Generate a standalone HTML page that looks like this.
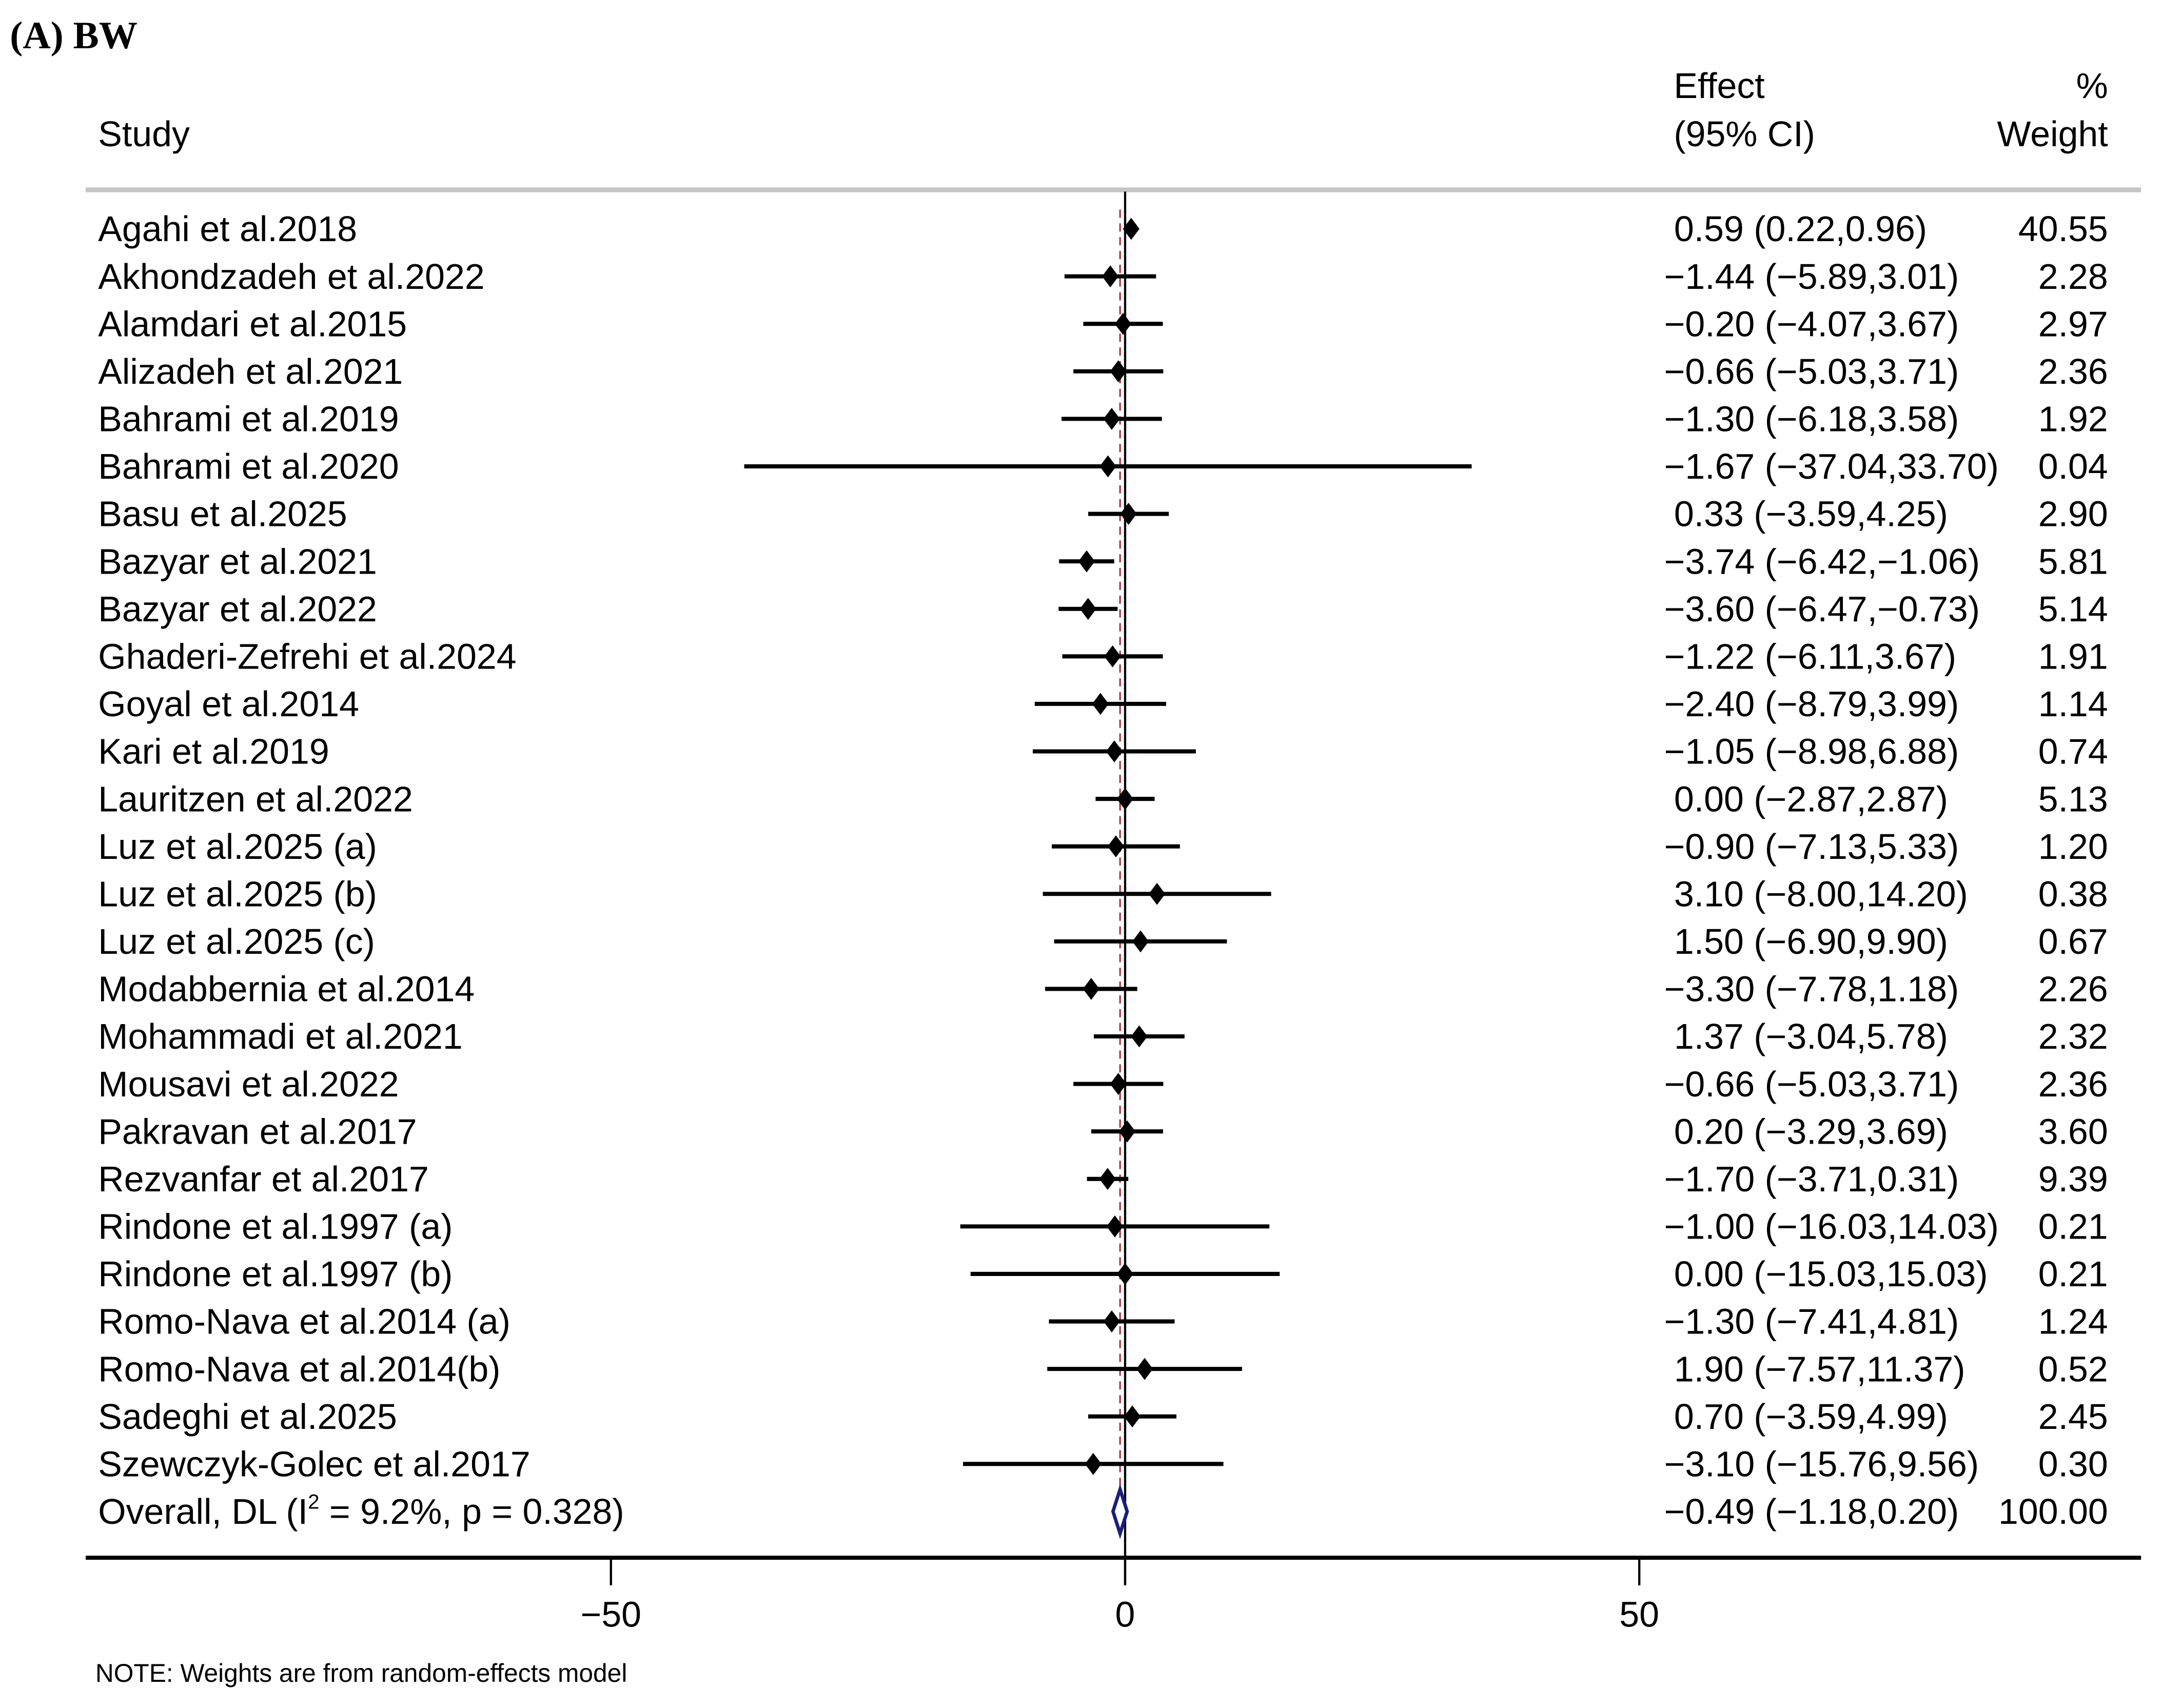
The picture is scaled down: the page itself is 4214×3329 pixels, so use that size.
<!DOCTYPE html>
<html><head><meta charset="utf-8"><style>
html,body{margin:0;padding:0;background:#fff}
svg{display:block}
text{font-family:"Liberation Sans",Arial,sans-serif;fill:#000}
</style></head><body>
<svg id="chart" width="4214" height="3329" viewBox="0 0 1568 1239" xmlns="http://www.w3.org/2000/svg">
<rect width="1568" height="1239" fill="#fff"/>
<text x="7" y="35" style="font-family:'Liberation Serif',serif;font-weight:bold;font-size:28px">(A) BW</text>
<text x="71" y="106" font-size="26">Study</text>
<text x="1214" y="71" font-size="26">Effect</text>
<text x="1214" y="106" font-size="26">(95% CI)</text>
<text x="1529" y="71" font-size="26" text-anchor="end">%</text>
<text x="1529" y="106" font-size="26" text-anchor="end">Weight</text>
<rect x="62" y="136" width="1491" height="3.5" fill="#c4c4c4"/>
<g id="plot"></g>
<text x="69" y="1220" font-size="18.5">NOTE: Weights are from random-effects model</text>
</svg>
<script>
const studies = ["Agahi et al.2018","Akhondzadeh et al.2022","Alamdari et al.2015","Alizadeh et al.2021","Bahrami et al.2019","Bahrami et al.2020","Basu et al.2025","Bazyar et al.2021","Bazyar et al.2022","Ghaderi-Zefrehi et al.2024","Goyal  et al.2014","Kari et al.2019","Lauritzen et al.2022","Luz et al.2025 (a)","Luz et al.2025 (b)","Luz et al.2025 (c)","Modabbernia et al.2014","Mohammadi et al.2021","Mousavi et al.2022","Pakravan et al.2017","Rezvanfar et al.2017","Rindone et al.1997 (a)","Rindone et al.1997 (b)","Romo-Nava et al.2014 (a)","Romo-Nava et al.2014(b)","Sadeghi et al.2025","Szewczyk-Golec et al.2017"];
const effects = [0.59,-1.44,-0.20,-0.66,-1.30,-1.67,0.33,-3.74,-3.60,-1.22,-2.40,-1.05,0.00,-0.90,3.10,1.50,-3.30,1.37,-0.66,0.20,-1.70,-1.00,0.00,-1.30,1.90,0.70,-3.10];
const lower = [0.22,-5.89,-4.07,-5.03,-6.18,-37.04,-3.59,-6.42,-6.47,-6.11,-8.79,-8.98,-2.87,-7.13,-8.00,-6.90,-7.78,-3.04,-5.03,-3.29,-3.71,-16.03,-15.03,-7.41,-7.57,-3.59,-15.76];
const upper = [0.96,3.01,3.67,3.71,3.58,33.70,4.25,-1.06,-0.73,3.67,3.99,6.88,2.87,5.33,14.20,9.90,1.18,5.78,3.71,3.69,0.31,14.03,15.03,4.81,11.37,4.99,9.56];
const weights = [40.55,2.28,2.97,2.36,1.92,0.04,2.90,5.81,5.14,1.91,1.14,0.74,5.13,1.20,0.38,0.67,2.26,2.32,2.36,3.60,9.39,0.21,0.21,1.24,0.52,2.45,0.30];
const overall = [-0.49,-1.18,0.20,100.00];
const overallLabel = "Overall, DL (I";
const overallStats = " = 9.2%, p = 0.328)";
const ticks = [-50,0,50];

const NS="http://www.w3.org/2000/svg";
const g=document.getElementById('plot');
const xs=v=>816+v*7.46;
const ys=i=>166+i*34.46;
function mk(t,a,txt){const e=document.createElementNS(NS,t);for(const k in a)e.setAttribute(k,a[k]);if(txt!==undefined)e.textContent=txt;g.appendChild(e);return e;}
const fmt=v=>(v<0?"\u2212":"")+Math.abs(v).toFixed(2);
const yO=ys(studies.length);

let z=mk('line',{x1:xs(0),x2:xs(0),y1:139,y2:1150,stroke:'#000','stroke-width':1.6});


let d=mk('line',{x1:xs(overall[0]),x2:xs(overall[0]),y1:ys(0)-14,y2:yO+16,stroke:'#a8383e','stroke-width':1.2,'stroke-dasharray':'6,4'});



studies.forEach((s,i)=>{
  const y=ys(i);
  let t=mk('text',{x:71,y:y+9,'font-size':26},s);
  
  
  let l=mk('line',{x1:xs(lower[i]),x2:xs(upper[i]),y1:y,y2:y,stroke:'#000','stroke-width':3});
  
  
  const cx=xs(effects[i]);
  let p=mk('polygon',{points:`${cx},${y-8} ${cx+6},${y} ${cx},${y+8} ${cx-6},${y}`,fill:'#000'});
  
  
  const e=(effects[i]<0?"":"\u00A0")+fmt(effects[i])+" ("+fmt(lower[i])+","+fmt(upper[i])+")";
  let et=mk('text',{x:1207,y:y+9,'font-size':26},e);
  
  
  let wt=mk('text',{x:1529,y:y+9,'font-size':26,'text-anchor':'end'},weights[i].toFixed(2));
  
  
});

let ot=mk('text',{x:71,y:yO+9,'font-size':26},overallLabel);


const ts=document.createElementNS(NS,'tspan');ts.setAttribute('font-size','15');ts.setAttribute('dy','-11');ts.textContent='2';ot.appendChild(ts);
const ts2=document.createElementNS(NS,'tspan');ts2.setAttribute('dy','11');ts2.textContent=overallStats;ot.appendChild(ts2);
let od=mk('polygon',{points:`${xs(overall[1])},${yO} ${xs(overall[0])},${yO-16} ${xs(overall[2])},${yO} ${xs(overall[0])},${yO+16}`,fill:'#fff',stroke:'#1a1f7a','stroke-width':2.5});


let oe=mk('text',{x:1207,y:yO+9,'font-size':26},fmt(overall[0])+" ("+fmt(overall[1])+","+fmt(overall[2])+")");


let ow=mk('text',{x:1529,y:yO+9,'font-size':26,'text-anchor':'end'},overall[3].toFixed(2));



let ax=mk('line',{x1:62,x2:1553,y1:1130,y2:1130,stroke:'#000','stroke-width':3});


ticks.forEach(v=>{
  let tk=mk('line',{x1:xs(v),x2:xs(v),y1:1130,y2:1150,stroke:'#000','stroke-width':1.6});
  
  
  let tl=mk('text',{x:xs(v),y:1180,'font-size':26,'text-anchor':'middle'},(v<0?"\u2212":"")+Math.abs(v));
  
  
});
</script>
</body></html>
